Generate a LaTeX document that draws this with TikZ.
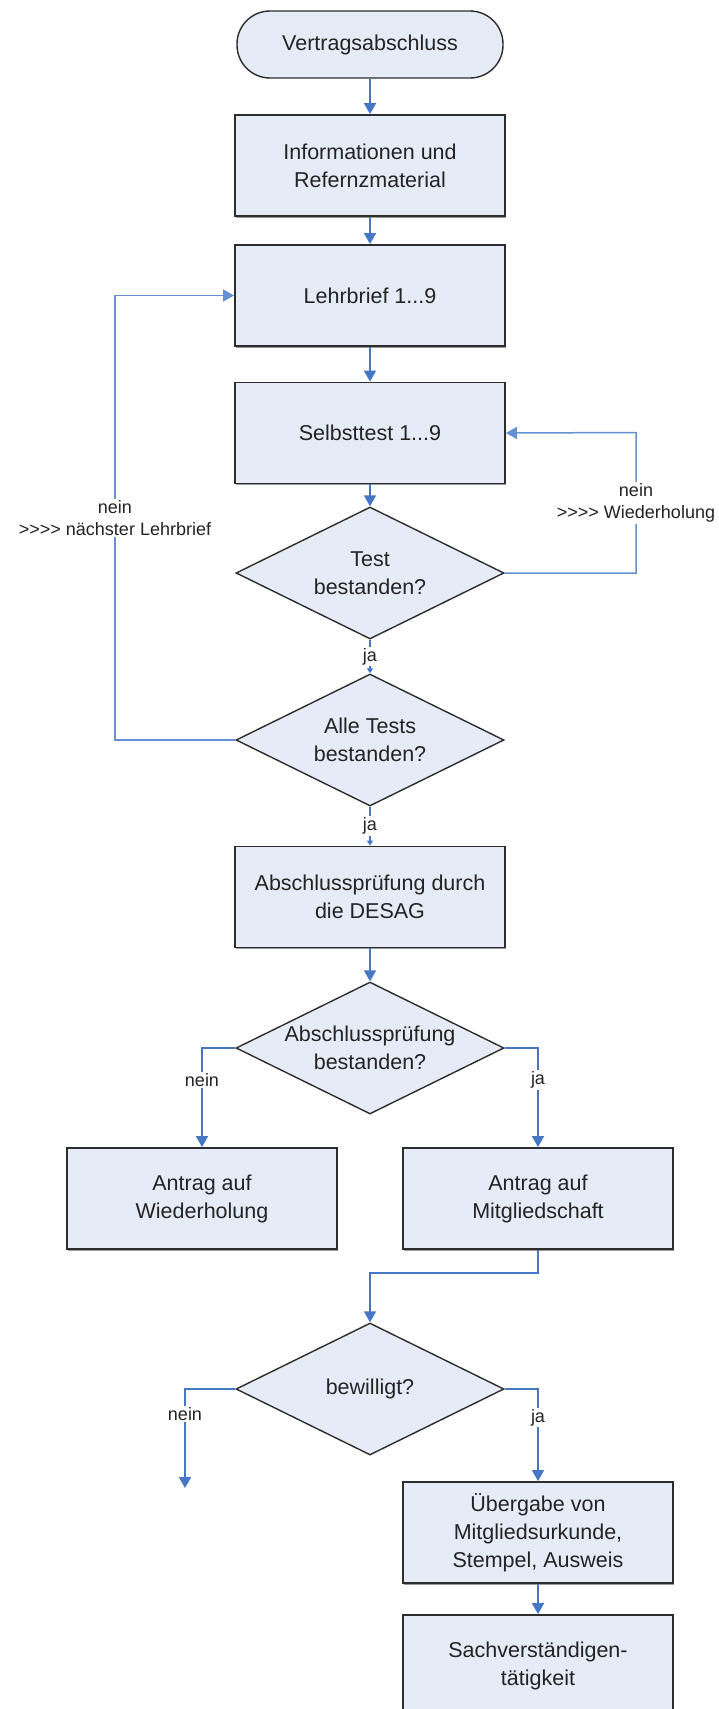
\documentclass[tikz,border=0pt]{standalone}
\usepackage{fontspec}
\setmainfont{Liberation Sans}
\usetikzlibrary{shapes.geometric,arrows.meta,shadows}
\definecolor{boxfill}{RGB}{230,236,247}
\definecolor{boxline}{RGB}{45,45,45}
\definecolor{connblue}{RGB}{70,118,198}
\definecolor{loopblue}{RGB}{100,145,210}
\definecolor{txt}{RGB}{35,35,35}
\newcommand\gts{>\kern0pt>\kern0pt>\kern0pt>}
\begin{document}
\begin{tikzpicture}[x=1pt,y=-1pt,
  every node/.style={text=txt},
  mainfont/.style={font=\fontsize{21.5}{28}\selectfont},
  procbox/.style={mainfont, draw=boxline, line width=1.8pt, fill=boxfill,
    minimum width=270pt, minimum height=101pt, inner sep=0pt, align=center,
    drop shadow={shadow xshift=1pt, shadow yshift=-1.5pt, fill=black!50, opacity=0.8}},
  termbox/.style={mainfont, draw=boxline, line width=1.4pt, fill=boxfill,
    rounded corners=33pt, minimum width=266pt, minimum height=67pt, inner sep=0pt, align=center},
  decision/.style={shape=diamond, draw=boxline, line width=1.4pt, fill=boxfill,
    minimum width=268pt, minimum height=132pt, inner sep=0pt},
  dtext/.style={mainfont, align=center, inner sep=0pt},
  arr/.style={draw=connblue, line width=1.8pt, -{Triangle[width=12pt,length=11pt]}},
  arrs/.style={draw=connblue, line width=1.5pt, -{Triangle[width=6pt,length=5pt]}},
  loopl/.style={draw=loopblue, line width=1.5pt, -{Triangle[width=12pt,length=11pt]}},
  lbl/.style={fill=white, inner sep=1.5pt, align=center, font=\fontsize{18}{22}\selectfont}
]
\useasboundingbox[fill=white] (0,0) rectangle (719,1709);

\node[termbox] (term) at (370,44.5) {Vertragsabschluss};
\node[procbox] (info) at (370,165.5) {Informationen und\\Refernzmaterial};
\node[procbox] (lehr) at (370,295.5) {Lehrbrief 1...9};
\node[procbox] (selbst) at (370,433) {Selbsttest 1...9};
\node[decision] (d1) at (370,573) {};
\node[dtext] (d1t) at (d1.center) {Test\\bestanden?};
\node[decision] (d2) at (370,740) {};
\node[dtext] (d2t) at (d2.center) {Alle Tests\\bestanden?};
\node[procbox] (abs) at (370,897) {Abschlussprüfung durch\\die DESAG};
\node[decision] (d3) at (370,1048) {};
\node[dtext] (d3t) at (d3.center) {Abschlussprüfung\\bestanden?};
\node[procbox] (antw) at (202,1198.5) {Antrag auf\\Wiederholung};
\node[procbox] (mitg) at (538,1198.5) {Antrag auf\\Mitgliedschaft};
\node[decision] (d4) at (370,1389) {};
\node[dtext] (d4t) at (d4.center) {bewilligt?};
\node[procbox] (ueber) at (538,1532.5) {Übergabe von\\Mitgliedsurkunde,\\Stempel, Ausweis};
\node[procbox] (sach) at (538,1665.5) {Sachverständigen-\\tätigkeit};
\coordinate (nend) at (185,1488);

\draw[arr] (term) -- (info);
\draw[arr] (info) -- (lehr);
\draw[arr] (lehr) -- (selbst);
\draw[arr] (selbst) -- (d1);
\draw[arrs] (d1) -- node[lbl]{ja} (d2);
\draw[loopl] (d1.east) -- (636,573) -- node[lbl]{nein\\\gts{} Wiederholung} (636,432.5) -- (selbst.east);
\draw[loopl] (d2.west) -- (115,740) -- node[lbl]{nein\\\gts{} nächster Lehrbrief} (115,295.5) -- (lehr.west);
\draw[arrs] (d2) -- node[lbl]{ja} (abs);
\draw[arr] (abs) -- (d3);
\draw[arr] (d3.west) -- (202,1048) -- node[lbl,pos=0.32]{nein} (antw);
\draw[arr] (d3.east) -- (538,1048) -- node[lbl,pos=0.32]{ja} (mitg);
\draw[arr] (mitg.south) -- (538,1273) -- (370,1273) -- (d4.north);
\draw[arr] (d4.west) -- (185,1389) -- node[lbl,pos=0.25]{nein} (nend);
\draw[arr] (d4.east) -- (538,1389) -- node[lbl,pos=0.31]{ja} (ueber);
\draw[arr] (ueber) -- (sach);
\end{tikzpicture}
\end{document}
